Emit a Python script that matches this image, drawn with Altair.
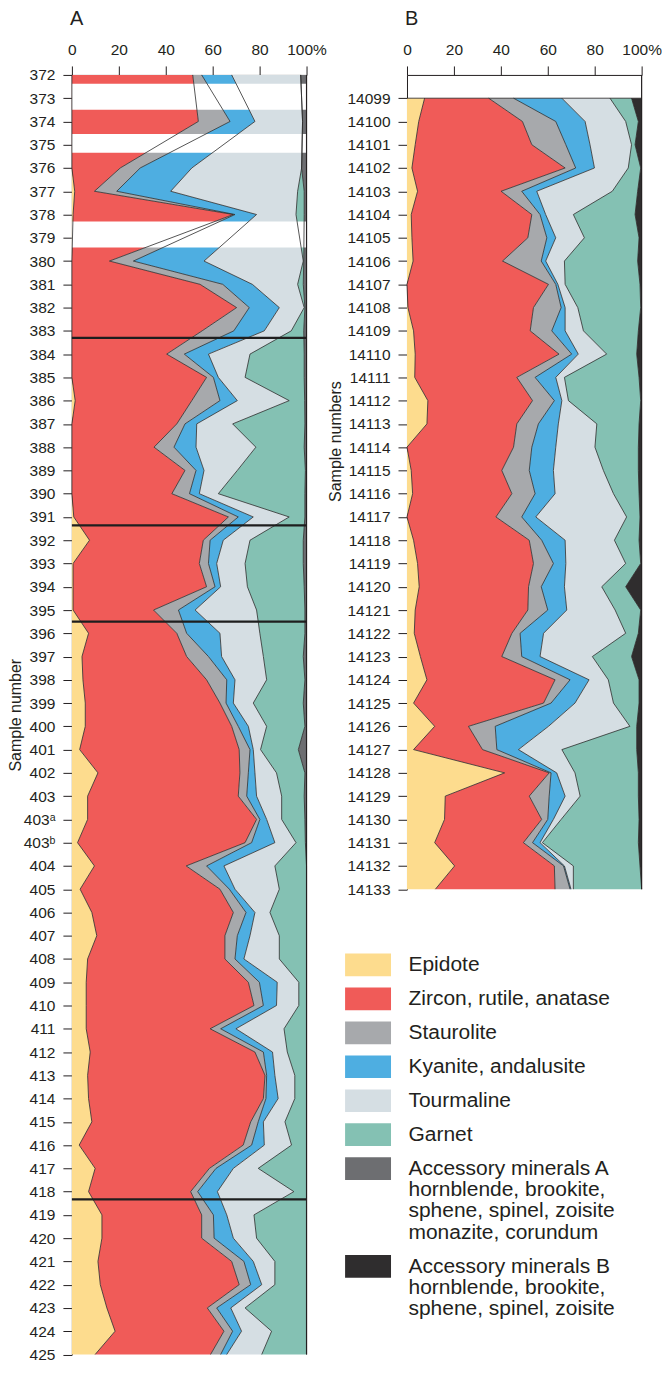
import altair as alt
import pandas as pd

FONT = "Liberation Sans, Arial, Helvetica, sans-serif"
INK = "#231f20"

MINERALS = ["Epidote", "Zircon, rutile, anatase", "Staurolite", "Kyanite, andalusite",
            "Tourmaline", "Garnet", "Accessory minerals A", "Accessory minerals B"]
COLORS = ["#fddc8e", "#f05b58", "#a7a9ac", "#4eaee1", "#d5dee3", "#84c1b3", "#6d6e71", "#2f2d2e"]
LEGEND_TEXT = ["Epidote", "Zircon, rutile, anatase", "Staurolite", "Kyanite, andalusite",
               "Tourmaline", "Garnet",
               "Accessory minerals A\nhornblende, brookite,\nsphene, spinel, zoisite\nmonazite, corundum",
               "Accessory minerals B\nhornblende, brookite,\nsphene, spinel, zoisite"]

# ---------------- Panel A ----------------
labels_A = [str(n) for n in range(372, 404)] + ["403\u1d43", "403\u1d47"] + [str(n) for n in range(404, 426)]
missing_A = ["373", "375", "379"]
samples_A = [l for l in labels_A if l not in missing_A]
# blank (not sampled) rows, in sample-number units
blank_rows_A = [(372.38, 373.5), (374.54, 375.35), (378.3, 379.42)]
# horizontal group boundaries, in sample-number units
group_breaks_A = [383.3, 391.36, 395.5, 418.33]

epidote_A = [0, 0, 0, 1.2, 0.5, 0, 0, 0, 0, 0, 0, 1.4, 0, 0, 0, 0, 0.8, 7.5, 0.5, 0.5, 0.5,
             7.1, 4.3, 4.7, 5.7, 5.7, 3.3, 11.1, 6.7, 6.7, 2.4,
             9.6, 3.5, 8.5, 10.6, 6.7, 6.1, 6.1, 6.1, 7.8, 6.7, 7.1, 8.5, 3.1, 9.9, 7.1,
             12.8, 12.8, 11.1, 12.1, 14.9, 18.4, 9.9]
zircon_A = [51.5, 53.9, 20.6, 8.4, 68.3, 16.0, 54.6, 70.2, 55.5, 40.4, 57.4, 49.7, 44.7, 35.0,
            48.2, 42.6, 65.9, 48.5, 53.8, 56.9, 34.3,
            37.6, 44.6, 52.7, 57.4, 62.4, 68.0, 60.5, 64.2, 72.0, 71.4,
            39.1, 59.6, 60.3, 54.6, 58.5, 69.1, 71.5, 52.8, 70.2, 75.6, 74.5, 67.7, 69.9, 48.7, 43.5,
            42.5, 42.5, 57.0, 59.2, 42.8, 46.4, 49.2]
staurolite_A = [3.8, 13.5, 8.5, 9.5, 0.7, 10.2, 9.7, 5.4, 13.5, 7.5, 2.9, 12.0, 3.5, 8.5,
                4.7, 7.5, 4.2, 2.9, 3.9, 3.6, 10.6,
                4.2, 9.3, 8.6, 2.6, 2.8, 4.6, 3.6, 3.6, 1.4, 2.8,
                8.7, 4.0, 5.4, 5.3, 4.3, 4.7, 4.0, 4.5, 3.6, 0.7, 1.1, 3.2, 3.6, 2.8, 3.0,
                5.0, 5.3, 5.2, 4.9, 4.0, 3.7, 4.3]
kyanite_A = [12.8, 10.6, 22.0, 23.0, 9.2, 30.1, 12.6, 12.8, 13.0, 10.3, 2.1, 7.4, 5.0, 9.4,
             3.4, 4.2, 6.4, 5.6, 3.5, 2.4, 7.1,
             14.2, 5.6, 3.5, 3.1, 4.3, 1.4, 2.8, 4.2, 2.9, 9.9,
             7.4, 2.4, 3.8, 5.4, 3.8, 7.6, 5.6, 6.5, 3.9, 3.5, 5.2, 2.2, 5.4, 7.4, 8.4,
             5.7, 8.2, 4.0, 4.7, 6.0, 3.8, 2.6]
tourmaline_A = [29.4, 20.3, 46.8, 54.1, 16.8, 42.3, 19.3, 10.6, 11.5, 17.7, 11.4, 22.1, 15.3, 25.5,
                14.2, 8.1, 15.3, 11.4, 12.1, 11.4, 26.2,
                17.0, 17.8, 13.5, 8.5, 7.8, 3.1, 9.2, 10.7, 6.4, 9.0,
                21.7, 18.9, 6.4, 12.5, 15.1, 9.2, 9.5, 20.5, 6.3, 8.5, 7.1, 9.2, 11.6, 10.6, 32.6,
                11.6, 9.9, 9.2, 5.6, 6.1, 12.8, 14.9]
garnet_A = [0, 0, 0, 2.8, 3.5, 0.2, 2.4, 0.3, 5.3, 23.1, 25.2, 6.6, 30.8, 20.6,
            29.0, 36.9, 6.7, 22.7, 24.8, 24.2, 20.6,
            19.2, 17.0, 16.3, 21.3, 16.3, 16.1, 12.1, 9.6, 9.9, 4.0,
            13.5, 11.6, 15.6, 11.6, 11.6, 3.3, 3.3, 9.6, 8.2, 5.0, 5.0, 9.2, 6.4, 20.6, 5.4,
            22.4, 21.3, 13.5, 13.5, 26.2, 14.9, 19.1]
accessory_A = [2.5, 1.7, 2.1, 1.0, 1.0, 1.2, 1.4, 0.7, 1.2, 1.0, 1.0, 0.8, 0.7, 1.0,
               0.5, 0.7, 0.7, 1.4, 1.4, 1.0, 0.7,
               0.7, 1.4, 0.7, 1.4, 0.7, 3.5, 0.7, 1.0, 0.7, 0.5,
               0, 0, 0, 0, 0, 0, 0, 0, 0, 0, 0, 0, 0, 0, 0,
               0, 0, 0, 0, 0, 0, 0]

# ---------------- Panel B ----------------
samples_B = [str(n) for n in range(14099, 14134)]
labels_B = [""] + samples_B
epidote_B = [7.5, 5.0, 3.5, 2.1, 4.5, 1.8, 2.1, 2.6, 0, 0.4, 2.8, 3.5, 3.3, 8.9, 8.5, 0, 1.8, 2.4,
             0, 2.8, 4.5, 5.2, 3.5, 3.1, 5.7, 8.5, 2.8, 11.8, 2.8, 41.6, 16.3, 16.0, 11.8, 20.3, 12.1]
zircon_B = [27.3, 44.2, 49.7, 65.3, 35.6, 51.4, 49.4, 38.1, 60.3, 53.5, 49.7, 61.3, 43.5, 44.6,
            38.3, 45.4, 38.6, 42.3, 37.9, 49.3, 49.4, 46.6, 48.0, 41.6, 34.7, 54.6, 55.4, 14.4,
            29.4, 19.0, 35.8, 41.4, 37.8, 42.5, 51.0]
staurolite_B = [10.6, 14.2, 14.5, 4.5, 8.8, 3.5, 8.1, 16.5, 3.1, 11.8, 9.2, 5.4, 7.8, 9.3, 9.2,
                7.8, 11.7, 9.9, 11.0, 5.3, 8.5, 5.4, 8.5, 3.5, 8.5, 6.4, 3.2, 11.4, 6.1, 0.8,
                8.5, 2.6, 3.9, 3.9, 6.4]
kyanite_B = [20.6, 12.5, 10.3, 8.0, 6.4, 2.4, 3.8, 1.9, 0.9, 1.7, 5.7, 2.8, 8.8, 3.2, 8.5, 10.2,
             10.3, 8.5, 6.0, 10.0, 5.3, 9.9, 8.1, 10.0, 7.8, 8.1, 10.2, 22.7, 9.2, 2.4, 6.8, 2.4,
             3.2, 0.4, 0.4]
tourmaline_B = [20.5, 17.3, 17.7, 14.4, 32.2, 11.8, 12.2, 8.0, 3.1, 5.4, 7.8, 12.1, 3.7, 2.8,
                16.4, 16.7, 21.3, 24.9, 38.7, 21.0, 25.5, 15.9, 20.6, 35.0, 22.3, 8.2, 16.4, 34.7,
                18.5, 7.8, 6.4, 3.3, 1.0, 3.8, 1.0]
garnet_B = [9.2, 5.4, 1.5, 5.3, 10.8, 26.3, 23.3, 31.2, 31.9, 26.8, 23.4, 12.8, 31.8, 30.8, 18.0,
            18.5, 14.9, 10.9, 5.7, 10.5, 6.4, 10.2, 10.9, 5.4, 16.7, 13.1, 10.9, 2.9, 31.9, 27.0,
            24.8, 33.2, 40.9, 28.4, 29.1]
accessory_B = [4.3, 1.4, 2.8, 0.4, 1.7, 2.8, 1.1, 1.7, 0.7, 0.4, 1.4, 2.1, 1.1, 0.4, 1.1, 1.4,
               1.4, 1.1, 0.7, 1.1, 0.4, 6.8, 0.4, 1.4, 4.3, 1.1, 1.1, 2.1, 2.1, 1.4, 1.4, 1.1,
               1.4, 0.7, 0]

names_A = MINERALS[:7]
names_B = MINERALS[:6] + [MINERALS[7]]
series_A = [epidote_A, zircon_A, staurolite_A, kyanite_A, tourmaline_A, garnet_A, accessory_A]
series_B = [epidote_B, zircon_B, staurolite_B, kyanite_B, tourmaline_B, garnet_B, accessory_B]

ROW = 23.3             # pixel height of one sample row
H_A = 55 * ROW
H_B = 35 * ROW


def build(labels, samples, series, names):
    rows = []
    for i, s in enumerate(samples):
        idx = labels.index(s)
        lo = 0.0
        for k, name in enumerate(names):
            v = series[k][i]
            rows.append({"idx": idx, "mineral": name, "k": k, "lo": lo, "hi": lo + v})
            lo += v
    return pd.DataFrame(rows)


def a_index(n):
    # sample-number position -> row index in panel A
    return n - 372 if n < 404 else n - 370


df_A = build(labels_A, samples_A, series_A, names_A)
df_B = build(labels_B, samples_B, series_B, names_B)
blank_A = pd.DataFrame({"idx": [a_index(a) for a, b in blank_rows_A],
                        "idx2": [a_index(b) for a, b in blank_rows_A]})
breaks_A = pd.DataFrame({"idx": [a_index(v) for v in group_breaks_A]})

color = alt.Color("mineral:N", scale=alt.Scale(domain=MINERALS, range=COLORS), legend=None)
xscale = alt.Scale(domain=[0, 100], nice=False, zero=False)

X_AXIS = alt.Axis(orient="top", values=[0, 20, 40, 60, 80, 100],
                  labelExpr="datum.value == 100 ? '100%' : datum.label",
                  tickSize=9, labelPadding=8.5, labelFontSize=15.5, labelFont=FONT,
                  labelColor=INK, domainColor=INK, tickColor=INK, grid=False, title=None,
                  labelFlush=False, labelOverlap=False)


def label_expr(labels):
    return "[" + ",".join("'" + l + "'" for l in labels) + "][datum.value]"


def y_axis(labels, n_max, first, title, tx, ty):
    return alt.Axis(values=list(range(first, n_max + 1)), labelExpr=label_expr(labels),
                    tickSize=9, labelPadding=8, labelFontSize=15.5, labelFont=FONT,
                    labelColor=INK, domainColor=INK, tickColor=INK, grid=False,
                    title=title, titleFont=FONT, titleFontSize=16,
                    titleFontWeight="normal", titleColor=INK, titleAngle=270,
                    titleAlign="center", titleBaseline="middle", titleX=tx, titleY=ty,
                    labelOverlap=False)


def panel(df, labels, n_max, first, ytitle, tx, ty, last_name):
    ysc = alt.Scale(domain=[0, n_max], reverse=True, nice=False, zero=False)
    yax = y_axis(labels, n_max, first, ytitle, tx, ty)

    def Y(field="idx:Q"):
        return alt.Y(field, scale=ysc, axis=yax)

    def X(field):
        return alt.X(field, scale=xscale, axis=X_AXIS, stack=None)

    area = alt.Chart(df).mark_area(orient="horizontal", interpolate="linear").encode(
        y=Y(), x=X("lo:Q"), x2="hi:Q", color=color)
    lines = alt.Chart(df[df.mineral != last_name]).mark_line(
        color="#2b2b2b", strokeWidth=0.8, interpolate="linear").encode(
        y=Y(), x=X("hi:Q"), detail="mineral:N", order=alt.Order("idx:Q"))
    edge_df = pd.DataFrame({"idx": [0], "idx2": [n_max], "x": [100]})
    edge = alt.Chart(edge_df).mark_rule(color=INK, strokeWidth=1.2).encode(
        x=X("x:Q"), y=Y(), y2="idx2:Q")
    return area, lines, edge, Y, X


area_A, lines_A, edge_A, YA, XA = panel(df_A, labels_A, 55, 0, "Sample number",
                                        -56, H_A / 2, "Accessory minerals A")
blank_A["x0"] = 0
blank_A["x1"] = 100
breaks_A["x0"] = 0
breaks_A["x1"] = 100
blanks = alt.Chart(blank_A).mark_rect(color="white").encode(
    y=YA(), y2="idx2:Q", x=XA("x0:Q"), x2="x1:Q")
breaks = alt.Chart(breaks_A).mark_rule(color="#1e1e1e", strokeWidth=2.2).encode(
    y=YA(), x=XA("x0:Q"), x2="x1:Q")

TITLE_KW = dict(anchor="start", frame="group", fontSize=20, font=FONT, fontWeight="normal",
                color=INK, offset=13.5, dx=-2)

chart_A = alt.layer(area_A, blanks, lines_A, breaks, edge_A).properties(
    width=235, height=H_A, title=alt.TitleParams("A", **TITLE_KW))

area_B, lines_B, edge_B, YB, XB = panel(df_B, labels_B, 35, 1, "Sample numbers",
                                        -71.6, 366.7, "Accessory minerals B")
top_df = pd.DataFrame({"idx": [1], "x0": [0], "x1": [100]})
top_box = alt.Chart(top_df).mark_rule(color=INK, strokeWidth=0.8).encode(
    y=YB(), x=XB("x0:Q"), x2="x1:Q")

# custom legend drawn below panel B (pixel offsets from panel B's plot origin)
LEG_TOP, ROW_GAP, LINE_H = 880, 34, 21.3
tops = []
cur = LEG_TOP
for t in LEGEND_TEXT:
    tops.append(cur)
    cur += ROW_GAP + (t.count("\n")) * LINE_H
leg = pd.DataFrame({"mineral": MINERALS, "text": LEGEND_TEXT, "top": tops,
                    "bottom": [t + 22.7 for t in tops], "ty": [t + 0.7 for t in tops]})
swatch = alt.Chart(leg).mark_rect().encode(
    x=alt.value(-62), x2=alt.value(-16),
    y=alt.Y("top:Q", scale=None, axis=None), y2="bottom:Q", color=color)
leg_text = alt.Chart(leg).mark_text(align="left", baseline="top", fontSize=21, font=FONT,
                                    color=INK, lineBreak="\n", lineHeight=21.3).encode(
    x=alt.value(1.5), y=alt.Y("ty:Q", scale=None, axis=None), text="text:N")

panel_B = alt.layer(area_B, lines_B, top_box, edge_B)
legend_B = alt.layer(swatch, leg_text)
chart_B = alt.layer(panel_B, legend_B).resolve_scale(x="independent", y="independent").properties(
    width=235, height=H_B, title=alt.TitleParams("B", **TITLE_KW))

chart = alt.hconcat(chart_A, chart_B, spacing=100.6, bounds="flush").properties(
    padding={"left": 0, "top": 0, "right": 0, "bottom": 0}, background="white"
).configure_view(stroke=None).configure_axis(labelOverlap=False)

chart.save("out.html", embed_options={"renderer": "svg", "actions": False})
